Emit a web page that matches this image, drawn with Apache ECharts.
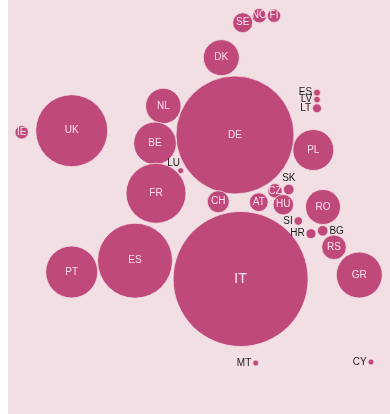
<!DOCTYPE html>
<html>
<head>
<meta charset="utf-8">
<script src="https://cdn.jsdelivr.net/npm/echarts@6/dist/echarts.min.js"></script>
<style>
  html, body { margin: 0; padding: 0; background: #ffffff; }
  #chart { width: 390px; height: 414px; }
</style>
</head>
<body>
<div id="chart"></div>
<script>
// Country codes as printed on the bubbles
const codes = ['SE','NO','FI','DK','DE','NL','UK','IE','BE','PL','ES','LV','LT','LU','FR','CH','AT','CZ','SK','HU','RO','SI','HR','BG','RS','PT','ES','IT','GR','MT','CY'];
// Layout position of each bubble (cartogram units)
const posX = [242.7,259.3,274,221.3,235,163.3,71.7,21.7,155,313.3,317,317,317,180.7,156,218.3,258.8,275,288.8,283.3,323,298.3,311,322.7,334,71.7,135,240.6,359.3,255.7,371];
const posY = [22.7,15.7,15.7,57.7,135,106,130.7,132.3,143.3,150,92.7,99.6,108.3,170.7,193.3,201.7,202.2,190.8,189.5,204.7,207,221,233.7,230.8,247.3,272,260.7,279,275,363,362];
// Bubble magnitude (area-proportional)
const values = [100,53,45,324,3481,313,1296,45,454,420,12,11,20,9,900,121,88,52,28,106,306,18,25,28,151,676,1406,4556,529,9,9];

// Small bubbles get a dark label placed outside
const outsideLabels = {
  10: { position: 'left', distance: 1 },
  11: { position: 'left', distance: 1 },
  12: { position: 'left', distance: 1 },
  13: { position: [-10, -9] },
  18: { position: 'top', distance: 1 },
  21: { position: 'left', distance: 1 },
  22: { position: 'left', distance: 1 },
  23: { position: 'right', distance: 1 },
  29: { position: 'left', distance: 1 },
  30: { position: 'left', distance: 1 }
};

const data = codes.map((c, i) => {
  const item = { name: c, value: [posX[i], posY[i], values[i]] };
  const out = outsideLabels[i];
  if (out) {
    item.label = Object.assign({ color: '#1a1a1a', fontSize: 10 }, out);
  } else if (c === 'IT') {
    item.label = { fontSize: 15 };
  }
  return item;
});

const chart = echarts.init(document.getElementById('chart'), null, { renderer: 'canvas' });
chart.setOption({
  animation: false,
  backgroundColor: '#ffffff',
  grid: {
    left: 8, right: 0, top: 0, bottom: 0,
    show: true, backgroundColor: '#f2dfe3', borderWidth: 0
  },
  xAxis: { type: 'value', min: 8, max: 390, show: false },
  yAxis: { type: 'value', min: 0, max: 414, inverse: true, show: false },
  series: [{
    type: 'scatter',
    data: data,
    symbolSize: v => 2 * Math.sqrt(v[2]),
    itemStyle: {
      color: '#c0497b',
      opacity: 1,
      borderColor: '#f2dfe3',
      borderWidth: 0.8
    },
    label: {
      show: true,
      position: 'inside',
      formatter: p => p.name,
      color: 'rgba(255,236,244,0.92)',
      fontFamily: 'Liberation Sans, Arial, sans-serif',
      fontSize: 10
    },
    labelLayout: { hideOverlap: false }
  }]
});
</script>
</body>
</html>
